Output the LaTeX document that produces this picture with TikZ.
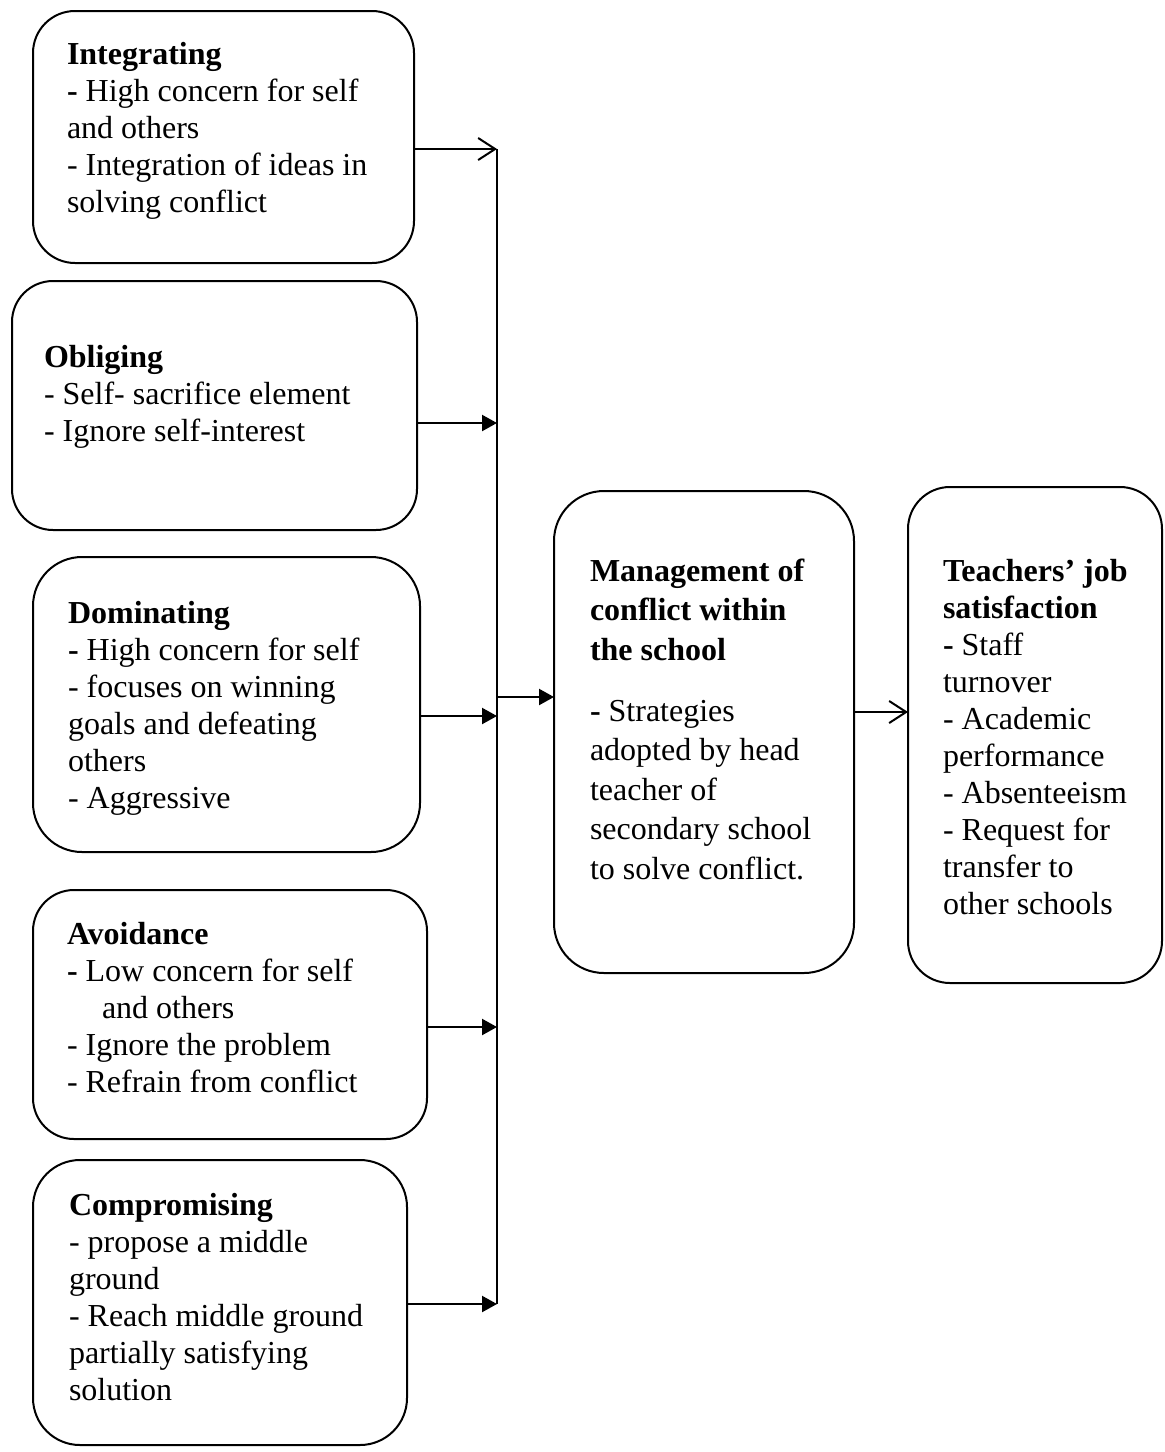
\documentclass[tikz,border=0pt]{standalone}
\usepackage{fontspec}
\setmainfont{Liberation Serif}
\usetikzlibrary{arrows.meta}
\begin{document}
\begin{tikzpicture}[x=1pt,y=-1pt,
  box/.style={draw, line width=2pt, inner sep=0pt, outer sep=0pt},
  txt/.style={anchor=north west, inner sep=0pt, outer sep=0pt, align=left, font=\fontsize{32}{37}\selectfont},
  txtwide/.style={anchor=north west, inner sep=0pt, outer sep=0pt, align=left, font=\fontsize{32}{39.5}\selectfont},
  bus/.style={line width=1.5pt},
  fillarrow/.style={line width=2.2pt, -{Triangle[length=15pt,width=16pt]}},
  openarrow/.style={line width=2pt, -{Straight Barb[length=17pt,width=22pt]}}]
\useasboundingbox (0,0) rectangle (1165,1452);

% boxes
\node[box, rounded corners=42pt, minimum width=381pt, minimum height=252pt] (int) at (223.5,137) {};
\node[box, rounded corners=41pt, minimum width=405pt, minimum height=249pt] (obl) at (214.5,405.5) {};
\node[box, rounded corners=49pt, minimum width=387pt, minimum height=295pt] (dom) at (226.5,704.5) {};
\node[box, rounded corners=41pt, minimum width=394pt, minimum height=249pt] (avo) at (230,1014.5) {};
\node[box, rounded corners=47pt, minimum width=374pt, minimum height=285pt] (com) at (220,1302.5) {};
\node[box, rounded corners=50pt, minimum width=300pt, minimum height=482pt] (man) at (704,732) {};
\node[box, rounded corners=42pt, minimum width=254pt, minimum height=496pt] (tea) at (1035,735) {};

% texts
\node[txt] (intT) at (67,38.1) {\strut\textbf{Integrating}\\
\textbf{-} High concern for self\\
and others\\
- Integration of ideas in\\
solving conflict};
\node[txt] (oblT) at (44,341.1) {\strut\textbf{Obliging}\\
- Self- sacrifice element\\
- Ignore self-interest};
\node[txt] (domT) at (68,597.1) {\strut\textbf{Dominating}\\
\textbf{-} High concern for self\\
- focuses on winning\\
goals and defeating\\
others\\
- Aggressive};
\node[txt] (avoT) at (67,918.1) {\strut\textbf{Avoidance}\\
\textbf{-} Low concern for self\\
\hspace*{35pt}and others\\
- Ignore the problem\\
- Refrain from conflict};
\node[txt] (comT) at (69,1189.1) {\strut\textbf{Compromising}\\
- propose a middle\\
ground\\
- Reach middle ground\\
partially satisfying\\
solution};
\node[txtwide] (manT) at (590,553.35) {\strut\textbf{Management of}\\
\textbf{conflict within}\\
\textbf{the school}\\[21.5pt]
\textbf{-} Strategies\\
adopted by head\\
teacher of\\
secondary school\\
to solve conflict.};
\node[txt] (teaT) at (943,555.1) {\strut\textbf{Teachers’ job}\\
\textbf{satisfaction}\\
\textbf{-} Staff\\
turnover\\
- Academic\\
performance\\
- Absenteeism\\
- Request for\\
transfer to\\
other schools};

% connectors
\coordinate (j1) at (497,149);
\coordinate (j2) at (497,423);
\coordinate (j3) at (497,716);
\coordinate (j4) at (497,1027);
\coordinate (j5) at (497,1304);
\coordinate (jm) at (497,697);
\coordinate (mt) at (880,712);

\draw[bus] (j1) -- (j5);
\draw[openarrow] (int.east |- j1) -- (j1);
\draw[fillarrow] (obl.east |- j2) -- (j2);
\draw[fillarrow] (dom.east |- j3) -- (j3);
\draw[fillarrow] (avo.east |- j4) -- (j4);
\draw[fillarrow] (com.east |- j5) -- (j5);
\draw[fillarrow] (jm) -- (man.west |- jm);
\draw[openarrow] (man.east |- mt) -- (tea.west |- mt);
\end{tikzpicture}
\end{document}
